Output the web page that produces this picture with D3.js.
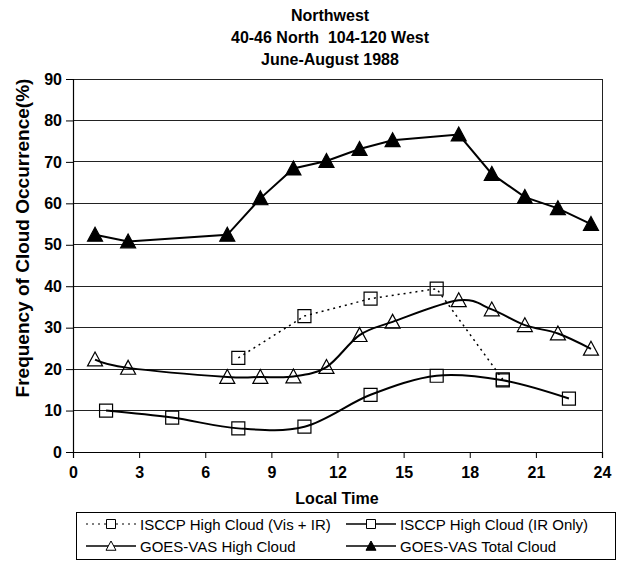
<!DOCTYPE html>
<html><head><meta charset="utf-8">
<script src="https://cdn.jsdelivr.net/npm/d3@7"></script>
<style>
html,body{margin:0;padding:0;background:#fff;}
text{font-family:"Liberation Sans",Arial,sans-serif;fill:#000;white-space:pre;}
</style></head>
<body><svg id="c" width="619" height="563"></svg>
<script>
const titleLines = ["Northwest", "40-46 North  104-120 West", "June-August 1988"];
const xTicks = [0, 3, 6, 9, 12, 15, 18, 21, 24];
const yTicks = [0, 10, 20, 30, 40, 50, 60, 70, 80, 90];
const goesHours = [1, 2.5, 7, 8.5, 10, 11.5, 13, 14.5, 17.5, 19, 20.5, 22, 23.5];
const goesTotal = [52.4, 50.8, 52.4, 61.2, 68.4, 70.2, 73.1, 75.2, 76.6, 67.1, 61.5, 58.8, 55.0];
const goesHigh = [22.3, 20.3, 18.1, 18.1, 18.2, 20.5, 28.2, 31.4, 36.6, 34.4, 30.6, 28.6, 24.9];
const irHours = [1.5, 4.5, 7.5, 10.5, 13.5, 16.5, 19.5, 22.5];
const irOnly = [10.0, 8.3, 5.7, 6.1, 13.8, 18.4, 17.3, 12.9];
const visHours = [7.5, 10.5, 13.5, 16.5, 19.5];
const visIr = [22.7, 32.8, 37.0, 39.4, 17.5];
const legendLabels = ["ISCCP High Cloud (Vis + IR)", "ISCCP High Cloud (IR Only)", "GOES-VAS High Cloud", "GOES-VAS Total Cloud"];

const svg = d3.select("#c");
const x = d3.scaleLinear().domain([0, 24]).range([73, 602]);
const y = d3.scaleLinear().domain([0, 90]).range([452, 79]);

// title
svg.append("g").selectAll("text").data(titleLines).join("text")
  .attr("x", 330).attr("y", (d, i) => 21 + i * 22)
  .attr("text-anchor", "middle").attr("font-size", 16).attr("font-weight", "bold")
  .attr("xml:space", "preserve")
  .text(d => d);

// gridlines
svg.append("g").selectAll("line").data(yTicks.filter(v => v > 0)).join("line")
  .attr("x1", x(0)).attr("x2", x(24)).attr("y1", d => y(d)).attr("y2", d => y(d))
  .attr("stroke", "#222").attr("stroke-width", 1).attr("shape-rendering", "crispEdges");
svg.append("line").attr("x1", x(24)).attr("x2", x(24)).attr("y1", y(0)).attr("y2", y(90))
  .attr("stroke", "#222").attr("stroke-width", 1).attr("shape-rendering", "crispEdges");

// axes
const yAxis = d3.axisLeft(y).tickValues(yTicks).tickSize(7).tickPadding(4);
const gy = svg.append("g").attr("transform", `translate(${x(0)},0)`).call(yAxis);
const xAxis = d3.axisBottom(x).tickValues(xTicks).tickSize(6).tickPadding(9);
const gx = svg.append("g").attr("transform", `translate(0,${y(0)})`).call(xAxis);
[gx, gy].forEach(g => {
  g.select(".domain").attr("stroke", "#000").attr("stroke-width", 1.2);
  g.selectAll(".tick line").attr("stroke", "#000");
  g.selectAll(".tick text").attr("font-size", 16).attr("font-weight", "bold")
    .attr("font-family", "Liberation Sans, Arial, sans-serif").attr("fill", "#000");
});

svg.append("text").attr("x", 337).attr("y", 504).attr("text-anchor", "middle")
  .attr("font-size", 16).attr("font-weight", "bold").text("Local Time");
svg.append("text").attr("transform", "translate(29,238) rotate(-90)").attr("text-anchor", "middle")
  .attr("font-size", 19).attr("font-weight", "bold").text("Frequency of Cloud Occurrence(%)");

// series
function zip(xs, ys) { return xs.map((h, i) => [h, ys[i]]); }
const series = [
  { data: zip(visHours, visIr), curve: d3.curveLinear, dash: "2,4", w: 1.5, marker: "square", fill: "none" },
  { data: zip(irHours, irOnly), curve: d3.curveCardinal.tension(0), dash: null, w: 2, marker: "square", fill: "none" },
  { data: zip(goesHours, goesHigh), curve: d3.curveCardinal.tension(0), dash: null, w: 2, marker: "triangle", fill: "none" },
  { data: zip(goesHours, goesTotal), curve: d3.curveLinear, dash: null, w: 2, marker: "triangle", fill: "#000" }
];

function markerPath(type, s) {
  if (type === "square") { const h = s / 2; return `M${-h},${-h}H${h}V${h}H${-h}Z`; }
  const h = s / 2; return `M0,${-h}L${h},${h * 0.85}L${-h},${h * 0.85}Z`;
}

series.forEach(s => {
  const line = d3.line().x(d => x(d[0])).y(d => y(d[1])).curve(s.curve);
  svg.append("path").attr("d", line(s.data)).attr("fill", "none").attr("stroke", "#000")
    .attr("stroke-width", s.w).attr("stroke-dasharray", s.dash);
});
series.forEach(s => {
  svg.append("g").selectAll("path").data(s.data).join("path")
    .attr("transform", d => `translate(${x(d[0])},${y(d[1])})`)
    .attr("d", markerPath(s.marker, s.marker === "square" ? 13 : 15))
    .attr("fill", s.fill).attr("stroke", "#000").attr("stroke-width", 1.2);
});

// legend
svg.append("rect").attr("x", 76.5).attr("y", 512.5).attr("width", 539).attr("height", 47)
  .attr("fill", "none").attr("stroke", "#000").attr("stroke-width", 1);
const legPos = [[86, 524], [346, 524], [86, 546], [346, 546]];
series.forEach((s, i) => {
  const [lx, ly] = legPos[i];
  const g = svg.append("g");
  g.append("line").attr("x1", lx).attr("x2", lx + 50).attr("y1", ly).attr("y2", ly)
    .attr("stroke", "#000").attr("stroke-width", s.dash ? 1.2 : 1.5).attr("stroke-dasharray", s.dash);
  g.append("path").attr("transform", `translate(${lx + 25},${ly})`)
    .attr("d", markerPath(s.marker, s.marker === "square" ? 9 : 10))
    .attr("fill", s.fill === "none" ? "#fff" : s.fill).attr("stroke", "#000").attr("stroke-width", 1);
  g.append("text").attr("x", lx + 54).attr("y", ly + 5.5).attr("font-size", 15).text(legendLabels[i]);
});
</script></body></html>
